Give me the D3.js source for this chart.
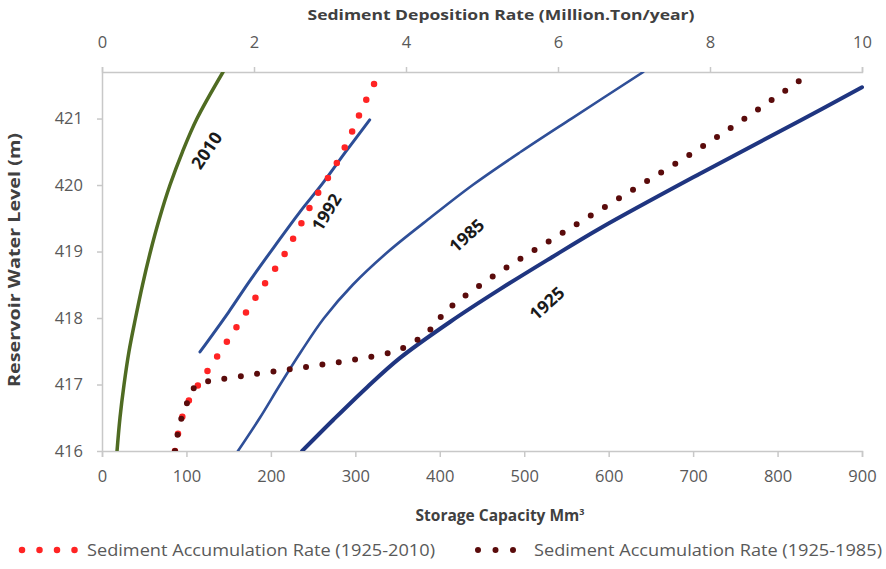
<!DOCTYPE html>
<html>
<head>
<meta charset="utf-8">
<script src="https://cdn.jsdelivr.net/npm/d3@7"></script>
<style>
  html, body { margin: 0; padding: 0; background: #fff; }
  svg { display: block; }
</style>
</head>
<body>
<script>
// ---------------- DATA ----------------
// Storage capacity curves (bottom axis, Mm3) vs reservoir water level (m)
const levels1925 = [416, 416.47, 416.96, 417.4, 417.94, 418.43, 418.9, 419.35, 420.17, 420.97, 421.47];
const cap1925    = [237, 274, 314, 353, 412, 471, 531, 590, 708, 827, 900];

const levels1985 = [416, 416.5, 417, 417.5, 418, 418.5, 419, 419.5, 420, 420.5, 421, 421.7];
const cap1985    = [161, 187, 211, 236, 263, 297, 339, 388, 439, 496, 556, 641];

const levels1992 = [417.49, 418.09, 418.54, 419.09, 419.59, 420.02, 420.49, 420.98];
const cap1992    = [116, 150, 174, 205, 234, 261, 288, 317];

const levels2010 = [416, 416.5, 417, 417.5, 418, 418.5, 419, 419.5, 420, 420.5, 421, 421.7];
const cap2010    = [17.8, 21.3, 26.1, 32.0, 39.7, 48.0, 57.4, 68.1, 80.5, 95.3, 112.5, 143.3];

// Sediment deposition rate curves (top axis, Million Ton/year)
const levelsRate2010 = [416, 416.75, 417.19, 417.62, 418.04, 418.48, 418.9, 419.33, 419.8, 420.23, 420.7, 421.17, 421.7];
const rate2010       = [0.96, 1.14, 1.38, 1.63, 1.87, 2.12, 2.37, 2.58, 2.80, 3.04, 3.25, 3.43, 3.66];

const levelsRate1985 = [416, 416.75, 417, 417.13, 417.23, 417.37, 417.46, 417.53, 417.65, 418.16, 418.6, 419.26, 419.89, 420.55, 421.23, 421.7];
const rate1985       = [0.96, 1.13, 1.25, 1.86, 2.47, 3.30, 3.72, 3.92, 4.12, 4.58, 5.11, 6.03, 6.93, 7.86, 8.75, 9.34];

// Axis ticks
const bottomTicks = [0, 100, 200, 300, 400, 500, 600, 700, 800, 900];
const topTicks    = [0, 2, 4, 6, 8, 10];
const leftTicks   = [416, 417, 418, 419, 420, 421];

const legendLabels = ["Sediment Accumulation Rate (1925-2010)", "Sediment Accumulation Rate (1925-1985)"];

// ---------------- CHART ----------------
const W = 886, H = 569;
const svg = d3.select("body").append("svg").attr("width", W).attr("height", H);

const x  = d3.scaleLinear().domain([0, 900]).range([102, 862]);
const xt = d3.scaleLinear().domain([0, 10]).range([102, 862]);
const y  = d3.scaleLinear().domain([416, 421.7]).range([451, 72]);

const FONT = "'Open Sans', 'Liberation Sans', sans-serif";
const axisColor = "#c8c8c8";
const tickText = "#595959";

// clip
svg.append("defs").append("clipPath").attr("id", "plot")
  .append("rect").attr("x", x(0)).attr("y", y(421.7)).attr("width", x(900) - x(0) + 6).attr("height", y(416) - y(421.7));

function styleAxis(g) {
  g.selectAll("path.domain").attr("stroke", axisColor).attr("stroke-width", 1.5);
  g.selectAll(".tick line").attr("stroke", axisColor).attr("stroke-width", 1.5);
  g.selectAll(".tick text").attr("fill", tickText).attr("font-family", FONT).attr("font-size", 16.5);
}

// bottom axis
svg.append("g").attr("transform", `translate(0,${y(416)})`)
  .call(d3.axisBottom(x).tickValues(bottomTicks).tickSize(6).tickSizeOuter(6).tickPadding(13))
  .call(styleAxis);
// top axis
svg.append("g").attr("transform", `translate(0,${y(421.7)})`)
  .call(d3.axisTop(xt).tickValues(topTicks).tickSize(5).tickSizeOuter(5).tickPadding(19))
  .call(styleAxis);
// left axis
svg.append("g").attr("transform", `translate(${x(0)},0)`)
  .call(d3.axisLeft(y).tickValues(leftTicks).tickFormat(d3.format("d")).tickSize(5).tickSizeOuter(0).tickPadding(14))
  .call(styleAxis);

// titles
svg.append("text").attr("x", 501).attr("y", 20).attr("text-anchor", "middle")
  .attr("font-family", FONT).attr("font-weight", "bold").attr("font-size", 15).attr("fill", "#404040")
  .attr("textLength", 387).attr("lengthAdjust", "spacingAndGlyphs")
  .text("Sediment Deposition Rate (Million.Ton/year)");

const bt = svg.append("text").attr("x", 500).attr("y", 521).attr("text-anchor", "middle")
  .attr("font-family", FONT).attr("font-weight", "bold").attr("font-size", 15.5).attr("fill", "#404040");
bt.append("tspan").text("Storage Capacity Mm");
bt.append("tspan").attr("dy", -6).attr("font-size", 9).text("3");

svg.append("text").attr("transform", "translate(20,260) rotate(-90)").attr("text-anchor", "middle")
  .attr("font-family", FONT).attr("font-weight", "bold").attr("font-size", 15.5).attr("fill", "#404040")
  .attr("textLength", 254).attr("lengthAdjust", "spacingAndGlyphs")
  .text("Reservoir Water Level (m)");

// series
const plot = svg.append("g").attr("clip-path", "url(#plot)");
const lineCap = d3.line().x(d => x(d[0])).y(d => y(d[1])).curve(d3.curveCatmullRom.alpha(0.5));
const lineRate = d3.line().x(d => xt(d[0])).y(d => y(d[1])).curve(d3.curveMonotoneY);
const zip = (a, b) => a.map((v, i) => [v, b[i]]);

const solid = [
  { c: cap2010, l: levels2010, color: "#4f6b22", w: 3.5 },
  { c: cap1992, l: levels1992, color: "#2c4d96", w: 3 },
  { c: cap1985, l: levels1985, color: "#2f4f98", w: 2.6 },
  { c: cap1925, l: levels1925, color: "#1f3580", w: 4 }
];
solid.forEach(s => {
  plot.append("path").datum(zip(s.c, s.l)).attr("d", lineCap)
    .attr("fill", "none").attr("stroke", s.color).attr("stroke-width", s.w).attr("stroke-linecap", "round");
});

const RED = "#ff2424", BROWN = "#5a0b0b";
plot.append("path").datum(zip(rate2010, levelsRate2010)).attr("d", lineRate)
  .attr("fill", "none").attr("stroke", RED).attr("stroke-width", 6.5)
  .attr("stroke-linecap", "round").attr("stroke-dasharray", "0 17.5");
plot.append("path").datum(zip(rate1985, levelsRate1985)).attr("d", lineRate)
  .attr("fill", "none").attr("stroke", BROWN).attr("stroke-width", 6)
  .attr("stroke-linecap", "round").attr("stroke-dasharray", "0 16.5");

// curve labels
const ann = [
  { t: "2010", c: 124, l: 420.52, a: -56 },
  { t: "1992", c: 266, l: 419.59, a: -58 },
  { t: "1985", c: 432, l: 419.24, a: -42 },
  { t: "1925", c: 527, l: 418.22, a: -42 }
];
svg.selectAll("text.ann").data(ann).enter().append("text").attr("class", "ann")
  .attr("transform", d => `translate(${x(d.c)},${y(d.l)}) rotate(${d.a})`)
  .attr("text-anchor", "middle").attr("dy", "0.35em")
  .attr("font-family", FONT).attr("font-weight", "bold").attr("font-size", 17.5).attr("fill", "#1a1a1a")
  .text(d => d.t);

// legend
const leg = [
  { color: RED, w: 6.5, x0: 22, x1: 76, tx: 87 },
  { color: BROWN, w: 6, x0: 478, x1: 528, tx: 534 }
];
leg.forEach((g, i) => {
  svg.append("line").attr("x1", g.x0).attr("x2", g.x1).attr("y1", 550).attr("y2", 550)
    .attr("stroke", g.color).attr("stroke-width", g.w).attr("stroke-linecap", "round")
    .attr("stroke-dasharray", "0 17.5");
  svg.append("text").attr("x", g.tx).attr("y", 556)
    .attr("font-family", FONT).attr("font-size", 16).attr("fill", tickText)
    .attr("textLength", 348).attr("lengthAdjust", "spacingAndGlyphs")
    .text(legendLabels[i]);
});
</script>
</body>
</html>
